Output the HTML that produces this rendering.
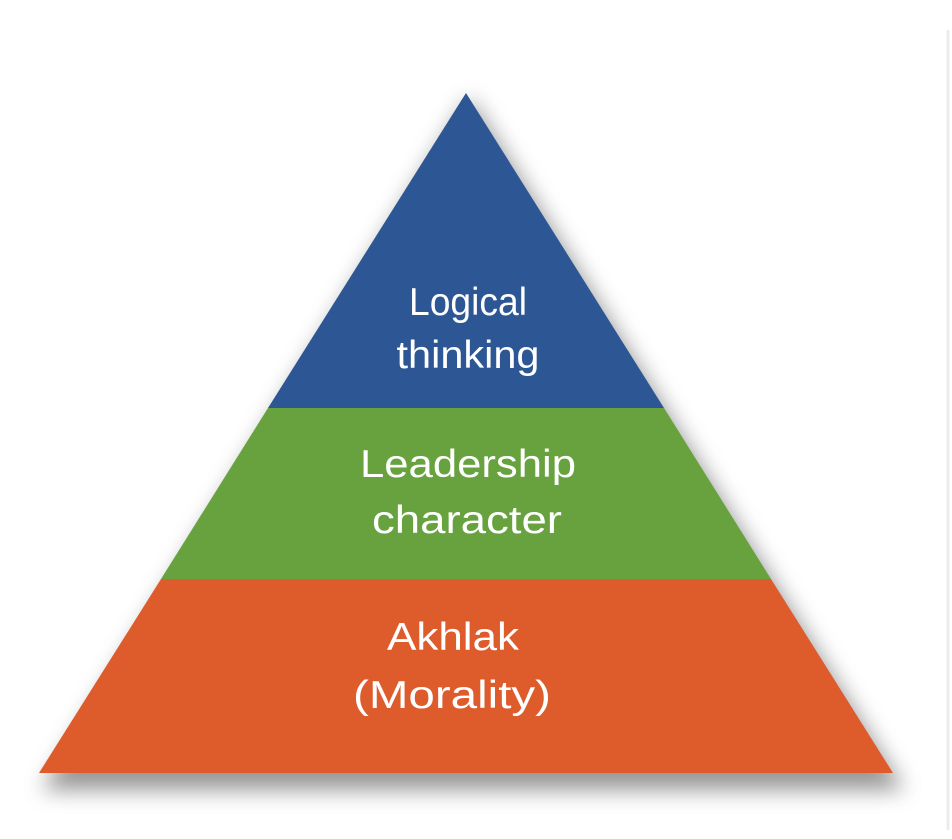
<!DOCTYPE html>
<html><head><style>html,body{margin:0;padding:0;background:#fff;}svg{display:block}</style></head>
<body>
<svg width="952" height="839" viewBox="0 0 952 839" xmlns="http://www.w3.org/2000/svg">
<defs>
<filter id="sh" x="-20%" y="-20%" width="140%" height="140%">
<feGaussianBlur stdDeviation="11"/>
</filter>
</defs>
<line x1="948" y1="30" x2="948" y2="830" stroke="#ececec" stroke-width="3"/>
<polygon points="470,98 42,790 904,790" fill="#6a6a6a" opacity="0.7" filter="url(#sh)"/>
<polygon points="466,93 268,408 664,408" fill="#2c5694"/>
<polygon points="268,408 664,408 771,579 161,579" fill="#67a23f"/>
<polygon points="161,579 771,579 893,773 39,773" fill="#de5b2c"/>
<g fill="#fff" font-family="Liberation Sans, DejaVu Sans, sans-serif" font-size="39" text-anchor="middle">
<text x="468" y="315" textLength="118" lengthAdjust="spacingAndGlyphs">Logical</text>
<text x="468" y="368" textLength="143" lengthAdjust="spacingAndGlyphs">thinking</text>
<text x="468" y="477" textLength="216" lengthAdjust="spacingAndGlyphs">Leadership</text>
<text x="467" y="533" textLength="190" lengthAdjust="spacingAndGlyphs">character</text>
<text x="453" y="650" textLength="132" lengthAdjust="spacingAndGlyphs">Akhlak</text>
<text x="452" y="708" textLength="198" lengthAdjust="spacingAndGlyphs">(Morality)</text>
</g>
</svg>
</body></html>
